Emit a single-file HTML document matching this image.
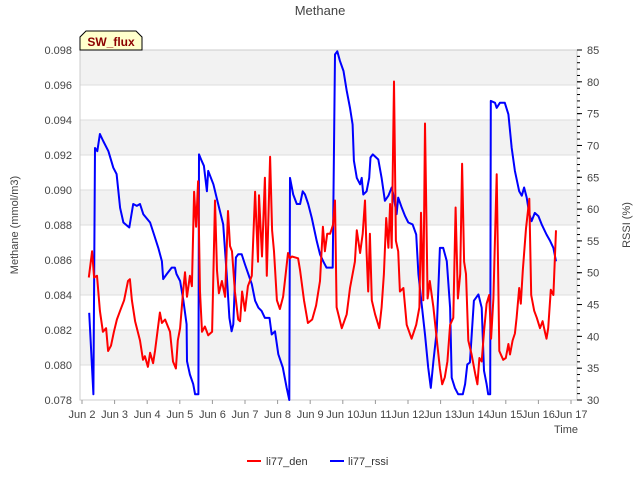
<!DOCTYPE html>
<html><head><meta charset="utf-8"><style>
html,body{margin:0;padding:0;background:#fff;}
svg{display:block;font-family:"Liberation Sans","DejaVu Sans",sans-serif;}
</style></head><body>
<svg id="chart" width="640" height="480" viewBox="0 0 640 480">
<text x="320" y="15" text-anchor="middle" font-size="13" fill="#444">Methane</text>
<g id="bands"></g><g id="grid"></g>
<rect x="80" y="50" width="497" height="350" fill="none" stroke="#ccc"/>
<g id="axes"></g>
<g id="series"></g>
<text transform="translate(18,225) rotate(-90)" text-anchor="middle" font-size="11" fill="#444">Methane (mmol/m3)</text>
<text transform="translate(630,225) rotate(-90)" text-anchor="middle" font-size="11" fill="#444">RSSI (%)</text>
<text x="578" y="433" text-anchor="end" font-size="11" fill="#444">Time</text>
<g>
<path d="M80,50 L80,37 L86,31 L136,31 L142,37 L142,50 Z" fill="#ffffcc" stroke="#000" stroke-width="1"/>
<text x="111" y="46" text-anchor="middle" font-size="12" font-weight="bold" fill="#8b0000">SW_flux</text>
</g>
<g>
<g><line x1="247" y1="461" x2="261" y2="461" stroke="#f00" stroke-width="2"/><text x="266" y="465" font-size="11" fill="#333">li77_den</text></g>
<g><line x1="330" y1="461" x2="344" y2="461" stroke="#00f" stroke-width="2"/><text x="348" y="465" font-size="11" fill="#333">li77_rssi</text></g>
</g>
</svg>
<script>
const denDays=[2.21,2.31,2.37,2.46,2.55,2.64,2.74,2.80,2.89,2.98,3.07,3.17,3.29,3.41,3.47,3.53,3.63,3.78,3.87,3.93,4.02,4.09,4.18,4.24,4.30,4.39,4.45,4.55,4.70,4.79,4.88,4.94,5.01,5.10,5.16,5.22,5.31,5.37,5.44,5.50,5.56,5.62,5.68,5.77,5.87,5.99,6.08,6.14,6.20,6.29,6.39,6.48,6.54,6.60,6.69,6.79,6.85,6.91,7.00,7.09,7.21,7.31,7.40,7.43,7.52,7.61,7.67,7.77,7.83,7.89,7.98,8.07,8.17,8.23,8.32,8.38,8.44,8.63,8.69,8.81,8.93,9.06,9.18,9.30,9.39,9.45,9.52,9.61,9.70,9.76,9.81,9.97,10.12,10.22,10.37,10.43,10.53,10.61,10.68,10.73,10.78,10.83,10.89,10.99,11.12,11.19,11.26,11.33,11.40,11.45,11.50,11.57,11.63,11.70,11.75,11.86,11.96,12.11,12.25,12.35,12.40,12.47,12.52,12.60,12.67,12.78,12.88,12.98,13.05,13.13,13.21,13.29,13.39,13.46,13.53,13.60,13.66,13.72,13.78,13.85,13.95,14.06,14.13,14.19,14.26,14.33,14.41,14.49,14.55,14.62,14.72,14.80,14.92,15.00,15.08,15.13,15.21,15.28,15.33,15.41,15.46,15.52,15.62,15.72,15.78,15.87,15.95,16.05,16.13,16.20,16.25,16.30,16.38,16.46,16.54];
const denValues=[0.0850,0.0865,0.0850,0.0851,0.0831,0.0819,0.0821,0.0808,0.0811,0.0819,0.0826,0.0831,0.0837,0.0848,0.0849,0.0837,0.0825,0.0814,0.0803,0.0805,0.0799,0.0807,0.0801,0.0808,0.0817,0.0830,0.0824,0.0826,0.0819,0.0802,0.0798,0.0814,0.0821,0.0842,0.0853,0.0839,0.0851,0.0845,0.0899,0.0879,0.0905,0.0842,0.0819,0.0822,0.0817,0.0819,0.0894,0.0854,0.0841,0.0848,0.0839,0.0888,0.0868,0.0865,0.0842,0.0826,0.0825,0.0842,0.0831,0.0845,0.0851,0.0899,0.0859,0.0897,0.0862,0.0907,0.0851,0.0919,0.0877,0.0865,0.0837,0.0832,0.0839,0.0849,0.0864,0.0861,0.0862,0.0861,0.0854,0.0837,0.0824,0.0826,0.0834,0.0848,0.0879,0.0865,0.0875,0.0875,0.0880,0.0894,0.0833,0.0821,0.0829,0.0844,0.0859,0.0877,0.0864,0.0875,0.0894,0.0864,0.0842,0.0875,0.0837,0.0829,0.0821,0.0833,0.0852,0.0884,0.0867,0.0892,0.0867,0.0962,0.0871,0.0865,0.0842,0.0844,0.0823,0.0815,0.0823,0.0833,0.0887,0.0837,0.0938,0.0838,0.0848,0.0833,0.0815,0.0798,0.0789,0.0793,0.0802,0.0823,0.0827,0.0890,0.0838,0.0852,0.0915,0.0859,0.0852,0.0814,0.0806,0.0795,0.0789,0.0804,0.0802,0.0819,0.0835,0.0840,0.0815,0.0838,0.0909,0.0808,0.0803,0.0804,0.0812,0.0806,0.0814,0.0818,0.0827,0.0844,0.0835,0.0854,0.0878,0.0895,0.0840,0.0831,0.0827,0.0821,0.0825,0.0819,0.0815,0.0821,0.0843,0.0840,0.0877];
const rssiDays=[2.22,2.35,2.40,2.47,2.55,2.65,2.81,2.96,3.06,3.17,3.27,3.45,3.57,3.68,3.78,3.88,4.09,4.21,4.34,4.45,4.49,4.60,4.75,4.85,4.90,5.01,5.11,5.21,5.22,5.31,5.41,5.47,5.57,5.59,5.67,5.74,5.83,5.87,6.03,6.13,6.23,6.33,6.44,6.52,6.59,6.64,6.72,6.79,6.90,7.00,7.10,7.21,7.31,7.41,7.51,7.61,7.75,7.82,7.92,8.02,8.16,8.28,8.36,8.38,8.48,8.59,8.69,8.77,8.84,8.94,9.05,9.20,9.30,9.40,9.50,9.61,9.69,9.76,9.83,9.91,10.02,10.12,10.22,10.30,10.34,10.43,10.53,10.58,10.63,10.73,10.81,10.85,10.92,11.09,11.19,11.29,11.40,11.50,11.55,11.65,11.70,11.81,11.91,12.01,12.14,12.25,12.32,12.42,12.52,12.62,12.70,12.78,12.88,12.98,13.08,13.19,13.29,13.34,13.44,13.54,13.68,13.75,13.82,13.90,14.02,14.16,14.26,14.33,14.41,14.46,14.52,14.54,14.67,14.72,14.82,14.97,15.08,15.18,15.28,15.41,15.49,15.56,15.64,15.72,15.79,15.89,16.00,16.10,16.25,16.36,16.46,16.54];
const rssiValues=[43.7,30.9,69.6,69.1,71.8,70.7,69.1,66.5,65.5,60.2,57.9,57.1,60.8,60.5,60.8,59.2,57.9,56.0,53.9,51.8,49.0,49.8,50.8,50.8,49.8,48.7,45.6,41.9,36.1,34.0,32.5,30.9,30.9,68.6,67.6,66.8,62.8,66.0,63.9,61.8,59.7,57.6,49.8,42.9,40.8,41.9,52.4,52.9,52.9,51.3,49.8,48.2,45.6,44.5,44.0,42.9,42.9,40.3,40.8,37.2,35.1,31.9,30.0,64.9,62.3,60.8,60.8,62.8,62.3,60.8,58.6,55.0,52.9,51.8,50.8,50.8,50.8,84.3,84.8,83.3,81.7,78.6,75.9,73.3,67.6,64.9,63.9,64.9,62.3,62.8,64.9,68.1,68.6,67.8,64.9,61.3,62.1,63.4,62.3,59.2,61.8,60.2,58.9,57.9,57.6,56.0,49.8,45.0,40.3,35.1,31.9,36.1,40.8,53.9,53.9,51.8,44.5,33.5,31.9,30.9,30.9,32.5,35.6,35.9,45.6,46.6,44.5,34.6,32.5,30.9,30.9,77.0,76.7,75.9,76.7,76.7,74.9,69.6,66.0,62.8,62.1,63.4,61.8,59.2,58.1,59.4,58.9,57.6,56.0,55.0,53.9,51.8];
const yTicks=["0.078","0.080","0.082","0.084","0.086","0.088","0.090","0.092","0.094","0.096","0.098"];
const y2Ticks=["30","35","40","45","50","55","60","65","70","75","80","85"];
const xTicks=["Jun 2","Jun 3","Jun 4","Jun 5","Jun 6","Jun 7","Jun 8","Jun 9","Jun 10","Jun 11","Jun 12","Jun 13","Jun 14","Jun 15","Jun 16","Jun 17"];

const X=d=>82+(d-2)*32.6;
const Y=v=>400-(v-0.078)/0.020*350;
const Y2=r=>400-(r-30)/55*350;
const NS="http://www.w3.org/2000/svg";
function mk(tag,attrs,parent,txt){const e=document.createElementNS(NS,tag);for(const k in attrs)e.setAttribute(k,attrs[k]);if(txt!==undefined)e.textContent=txt;parent.appendChild(e);return e;}
const bands=document.getElementById('bands'),grid=document.getElementById('grid'),axes=document.getElementById('axes'),series=document.getElementById('series');
for(let i=0;i<yTicks.length-1;i++){
  if(i%2===1){const b=mk('rect',{x:80,y:Y(+yTicks[i+1]),width:497,height:Y(+yTicks[i])-Y(+yTicks[i+1]),fill:'#f2f2f2'},bands);
  
  }
}
yTicks.forEach(t=>{const y=Y(+t);
  const g=mk('line',{x1:80,x2:577,y1:y,y2:y,stroke:'#ddd'},grid);
  
  
  const l=mk('text',{x:72,y:y+4,'text-anchor':'end','font-size':11,fill:'#444'},axes,t);
  
  });
y2Ticks.forEach(t=>{const y=Y2(+t);
  mk('line',{x1:577,x2:582,y1:y,y2:y,stroke:'#000'},axes);
  const l=mk('text',{x:587,y:y+4,'font-size':11,fill:'#444'},axes,t);
  
  });
for(let r=30;r<=85;r++){const y=Y2(r);mk('line',{x1:577,x2:580,y1:y,y2:y,stroke:'#000'},axes);}
xTicks.forEach((t,i)=>{const x=X(2+i);
  mk('line',{x1:x,x2:x,y1:400,y2:404,stroke:'#999'},axes);
  const l=mk('text',{x:x,y:418,'text-anchor':'middle','font-size':11,fill:'#444'},axes,t);
  
  });
const pd=denDays.map((d,i)=>X(d).toFixed(1)+','+Y(denValues[i]).toFixed(1)).join(' ');
const pr=rssiDays.map((d,i)=>X(d).toFixed(1)+','+Math.min(400,Y2(rssiValues[i])).toFixed(1)).join(' ');
const lr=mk('polyline',{points:pr,fill:'none',stroke:'#00f','stroke-width':2,'stroke-linejoin':'round'},series);


const ld=mk('polyline',{points:pd,fill:'none',stroke:'#f00','stroke-width':2,'stroke-linejoin':'round'},series);


</script>
</body></html>
